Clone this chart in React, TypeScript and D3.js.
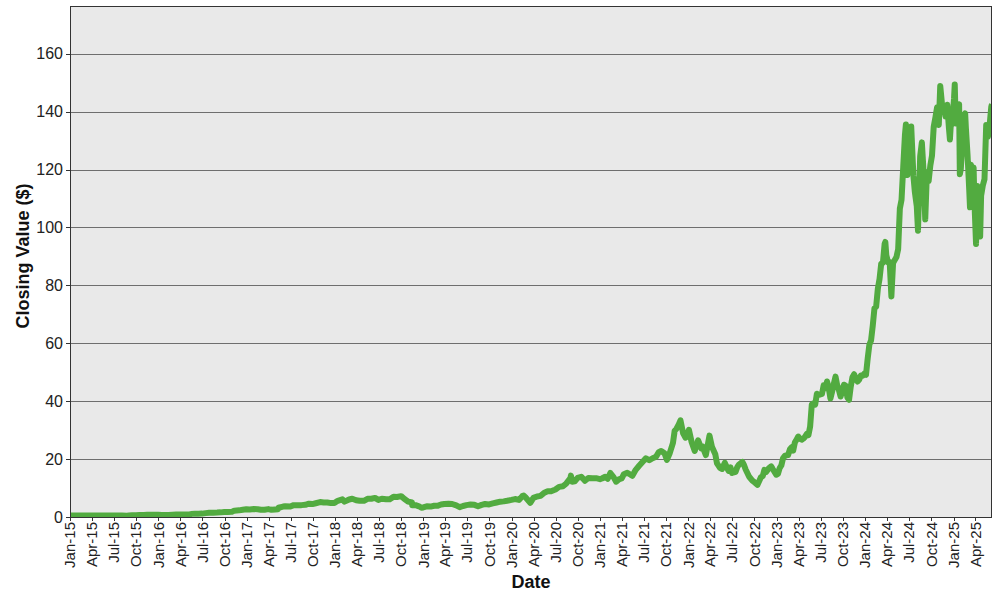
import React from "react";
import * as d3 from "d3";

// Closing values (split-adjusted)
const closeDates: string[] = [
  // 2015
  "2015-01-02","2015-01-15","2015-02-02","2015-02-17","2015-03-02","2015-03-16","2015-04-01","2015-04-15",
  "2015-05-01","2015-05-15","2015-06-01","2015-06-15","2015-07-01","2015-07-15","2015-08-03","2015-08-24",
  "2015-09-01","2015-09-15","2015-10-01","2015-10-15","2015-11-02","2015-11-16","2015-12-01","2015-12-15","2015-12-31",
  // 2016
  "2016-01-15","2016-01-29","2016-02-12","2016-02-29","2016-03-15","2016-03-31","2016-04-15","2016-04-29",
  "2016-05-13","2016-05-16","2016-05-31","2016-06-15","2016-06-30","2016-07-15","2016-07-29","2016-08-15",
  "2016-08-31","2016-09-15","2016-09-30","2016-10-14","2016-10-31","2016-11-10","2016-11-30","2016-12-15","2016-12-30",
  // 2017
  "2017-01-13","2017-01-31","2017-02-15","2017-02-28","2017-03-15","2017-03-31","2017-04-13","2017-04-28",
  "2017-05-10","2017-05-12","2017-05-31","2017-06-09","2017-06-30","2017-07-14","2017-07-31","2017-08-15",
  "2017-08-31","2017-09-15","2017-09-29","2017-10-13","2017-10-31","2017-11-15","2017-11-30","2017-12-15","2017-12-29",
  // 2018
  "2018-01-12","2018-01-31","2018-02-09","2018-02-28","2018-03-13","2018-03-29","2018-04-13","2018-04-30",
  "2018-05-15","2018-05-31","2018-06-15","2018-06-29","2018-07-13","2018-07-31","2018-08-15","2018-08-31",
  "2018-09-14","2018-10-01","2018-10-15","2018-10-31","2018-11-15","2018-11-16","2018-11-30","2018-12-14","2018-12-24","2018-12-31",
  // 2019
  "2019-01-15","2019-01-31","2019-02-15","2019-02-28","2019-03-15","2019-03-29","2019-04-15","2019-04-30",
  "2019-05-17","2019-05-31","2019-06-14","2019-06-28","2019-07-15","2019-07-31","2019-08-15","2019-08-30",
  "2019-09-13","2019-09-30","2019-10-15","2019-10-31","2019-11-15","2019-11-29","2019-12-13","2019-12-31",
  // 2020
  "2020-01-15","2020-01-31","2020-02-14","2020-02-20","2020-02-28","2020-03-09","2020-03-18","2020-03-31",
  "2020-04-15","2020-04-30","2020-05-15","2020-05-29","2020-06-12","2020-06-30","2020-07-15","2020-07-31",
  "2020-08-14","2020-08-31","2020-09-02","2020-09-08","2020-09-18","2020-09-30","2020-10-15","2020-10-30",
  "2020-11-13","2020-11-30","2020-12-15","2020-12-31",
  // 2021
  "2021-01-08","2021-01-22","2021-02-01","2021-02-12","2021-02-26","2021-03-08","2021-03-19","2021-03-31",
  "2021-04-09","2021-04-23","2021-05-07","2021-05-14","2021-05-28","2021-06-11","2021-06-25","2021-07-09",
  "2021-07-23","2021-08-06","2021-08-20","2021-08-31","2021-09-10","2021-09-24","2021-10-04","2021-10-15",
  "2021-10-29","2021-11-05","2021-11-12","2021-11-22","2021-11-29","2021-12-10","2021-12-20","2021-12-31",
  // 2022
  "2022-01-03","2022-01-14","2022-01-27","2022-02-04","2022-02-10","2022-02-23","2022-02-28","2022-03-14",
  "2022-03-29","2022-04-08","2022-04-22","2022-04-29","2022-05-12","2022-05-20","2022-05-31","2022-06-10",
  "2022-06-16","2022-06-24","2022-06-30","2022-07-15","2022-07-22","2022-07-29","2022-08-12","2022-08-19",
  "2022-08-26","2022-09-09","2022-09-23","2022-09-30","2022-10-13","2022-10-21","2022-10-28","2022-11-04",
  "2022-11-11","2022-11-18","2022-11-30","2022-12-09","2022-12-16","2022-12-30",
  // 2023
  "2023-01-06","2023-01-13","2023-01-20","2023-01-27","2023-02-03","2023-02-10","2023-02-17","2023-02-24",
  "2023-03-03","2023-03-10","2023-03-17","2023-03-24","2023-03-31","2023-04-07","2023-04-14","2023-04-21",
  "2023-04-28","2023-05-05","2023-05-12","2023-05-19","2023-05-26","2023-06-02","2023-06-09","2023-06-16",
  "2023-06-23","2023-06-30","2023-07-07","2023-07-14","2023-07-21","2023-07-28","2023-08-04","2023-08-11",
  "2023-08-18","2023-08-25","2023-09-01","2023-09-08","2023-09-15","2023-09-22","2023-09-29","2023-10-06",
  "2023-10-13","2023-10-20","2023-10-27","2023-11-03","2023-11-10","2023-11-17","2023-11-24","2023-12-01",
  "2023-12-08","2023-12-15","2023-12-22","2023-12-29",
  // 2024
  "2024-01-05","2024-01-12","2024-01-19","2024-01-26","2024-02-02","2024-02-09","2024-02-16","2024-02-23",
  "2024-03-01","2024-03-08","2024-03-15","2024-03-22","2024-03-25","2024-03-29","2024-04-05","2024-04-12",
  "2024-04-19","2024-04-26","2024-05-03","2024-05-10","2024-05-17","2024-05-24","2024-05-31","2024-06-07",
  "2024-06-14","2024-06-18","2024-06-24","2024-06-28","2024-07-05","2024-07-10","2024-07-19","2024-07-25",
  "2024-08-02","2024-08-07","2024-08-16","2024-08-23","2024-08-30","2024-09-06","2024-09-13","2024-09-20",
  "2024-09-27","2024-10-04","2024-10-11","2024-10-18","2024-10-25","2024-11-01","2024-11-07","2024-11-15",
  "2024-11-22","2024-11-29","2024-12-06","2024-12-13","2024-12-17","2024-12-20","2024-12-27",
  // 2025
  "2025-01-03","2025-01-06","2025-01-10","2025-01-17","2025-01-24","2025-01-27","2025-01-31","2025-02-07",
  "2025-02-14","2025-02-18","2025-02-21","2025-02-28","2025-03-07","2025-03-10","2025-03-14","2025-03-21",
  "2025-03-25","2025-03-28","2025-04-04","2025-04-09","2025-04-11","2025-04-17","2025-04-21","2025-04-25",
  "2025-05-02","2025-05-09","2025-05-16","2025-05-23","2025-05-30","2025-06-06","2025-06-09",
];

const closeValues: number[] = [
  // 2015
  0.50,0.48,0.51,0.56,0.55,0.54,0.52,0.54,
  0.55,0.55,0.55,0.50,0.50,0.49,0.50,0.45,
  0.50,0.57,0.62,0.66,0.72,0.77,0.82,0.79,0.82,
  // 2016
  0.68,0.73,0.68,0.77,0.84,0.89,0.90,0.89,
  0.93,1.08,1.16,1.15,1.17,1.34,1.43,1.50,
  1.53,1.60,1.71,1.70,1.78,2.20,2.30,2.50,2.67,
  // 2017
  2.58,2.73,2.70,2.53,2.50,2.72,2.48,2.60,
  2.71,3.20,3.60,3.70,3.61,4.10,4.05,4.10,
  4.20,4.60,4.46,4.75,5.15,5.00,5.00,4.80,4.84,
  // 2018
  5.60,6.10,5.30,6.05,6.30,5.80,5.60,5.60,
  6.30,6.30,6.60,5.90,6.30,6.10,6.10,7.00,
  6.90,7.20,6.20,5.30,5.00,4.10,4.10,3.70,3.20,3.30,
  // 2019
  3.70,3.60,3.90,3.85,4.30,4.50,4.60,4.50,
  4.00,3.40,3.80,4.10,4.30,4.20,3.70,4.20,
  4.50,4.35,4.70,5.00,5.30,5.40,5.60,5.90,
  // 2020
  6.20,5.90,7.20,7.40,6.75,5.80,4.90,6.60,
  7.10,7.30,8.40,8.90,8.90,9.50,10.40,10.60,
  11.60,13.40,14.30,12.20,12.30,13.50,13.90,12.50,
  13.50,13.40,13.40,13.05,
  // 2021
  13.30,13.90,13.20,15.20,13.70,12.20,13.00,13.30,
  14.80,15.30,14.60,14.20,16.30,17.70,19.00,20.30,
  19.60,20.30,20.80,22.40,22.80,22.00,19.70,21.90,
  25.60,29.80,30.40,32.00,33.40,28.90,27.40,29.40,
  // 2022
  30.10,25.90,22.80,25.10,26.50,23.70,24.40,21.40,
  28.10,24.30,21.70,18.50,16.90,16.60,18.70,16.90,
  15.90,17.10,15.20,15.60,17.30,18.10,19.00,17.90,
  16.30,13.90,12.50,12.10,11.10,12.50,13.80,14.10,
  16.30,15.50,16.90,17.50,16.50,14.60,
  // 2023
  14.90,16.90,17.80,20.30,21.10,21.30,21.40,23.30,
  24.00,22.90,25.80,26.70,27.80,27.00,26.70,27.10,
  27.70,28.70,28.30,31.20,38.90,39.30,38.80,42.60,
  42.20,42.30,42.50,45.50,44.40,46.80,44.60,40.90,
  43.30,46.00,48.50,45.50,43.90,41.60,43.50,45.70,
  45.40,41.30,40.50,45.00,48.30,49.30,47.80,46.80,
  47.50,48.90,48.80,49.50,
  // 2024
  49.10,54.70,59.50,61.00,66.10,72.10,72.60,78.80,
  82.20,87.50,87.80,94.30,95.00,90.40,88.00,88.10,
  76.20,87.70,88.80,89.80,92.50,106.50,109.60,120.90,
  131.90,135.60,118.10,123.50,125.80,134.90,117.90,112.30,
  107.30,98.90,124.60,129.40,119.40,102.80,119.10,116.00,
  121.40,124.90,134.80,138.00,141.50,135.40,148.90,141.98,
  141.95,138.30,142.40,134.30,130.40,134.70,137.00,
  // 2025
  144.50,149.40,135.90,137.70,142.60,118.40,120.10,129.80,
  138.90,139.40,134.40,124.90,112.70,106.98,121.70,117.70,
  120.70,109.70,94.30,114.30,110.90,101.50,96.90,111.00,
  114.50,116.70,135.40,131.30,135.10,141.70,142.60,
];

const yTickValues: number[] = [0, 20, 40, 60, 80, 100, 120, 140, 160];
const xDomainDates: string[] = ["2015-01-01", "2025-06-09"];
const yDomainMax = 176.5;
const xTitle = "Date";
const yTitle = "Closing Value ($)";

const W = 1000;
const H = 600;
const M = { left: 70, top: 6, right: 8, bottom: 83 };
const FONT = "Arial, 'Liberation Sans', sans-serif";

export default function App() {
  const parse = d3.timeParse("%Y-%m-%d");
  const data = closeDates.map((d, i) => ({ date: parse(d) as Date, value: closeValues[i] }));

  const x = d3
    .scaleTime()
    .domain(xDomainDates.map((d) => parse(d) as Date))
    .range([M.left, W - M.right]);
  const y = d3
    .scaleLinear()
    .domain([0, yDomainMax])
    .range([H - M.bottom, M.top]);

  const line = d3
    .line<{ date: Date; value: number }>()
    .x((d) => x(d.date))
    .y((d) => y(d.value));

  const xTicks = x.ticks(d3.timeMonth.every(3) as d3.TimeInterval);
  const fmt = d3.timeFormat("%b-%y");
  const plotW = W - M.left - M.right;
  const plotH = H - M.top - M.bottom;
  const bottom = H - M.bottom;

  return (
    <svg
      width={W}
      height={H}
      style={{ position: "absolute", left: 0, top: 0, display: "block", background: "#fff" }}
      fontFamily={FONT}
    >
      <defs>
        <clipPath id="plotclip">
          <rect x={M.left} y={M.top} width={plotW} height={plotH} />
        </clipPath>
      </defs>
      <rect x={M.left} y={M.top} width={plotW} height={plotH} fill="#e9e9e9" />
      {yTickValues.map((t) => (
        <g key={`y${t}`}>
          {t > 0 && (
            <line
              x1={M.left}
              x2={W - M.right}
              y1={Math.round(y(t)) + 0.5}
              y2={Math.round(y(t)) + 0.5}
              stroke="#6e6e6e"
              strokeWidth={1}
            />
          )}
          <line
            x1={M.left - 4}
            x2={M.left}
            y1={Math.round(y(t)) + 0.5}
            y2={Math.round(y(t)) + 0.5}
            stroke="#333"
          />
          <text
            x={M.left - 7}
            y={y(t)}
            dy="0.35em"
            textAnchor="end"
            fontSize={16}
            fill="#222"
          >
            {t}
          </text>
        </g>
      ))}
      <path
        d={line(data) || ""}
        fill="none"
        stroke="#52ab40"
        strokeWidth={6}
        strokeLinejoin="round"
        clipPath="url(#plotclip)"
      />
      <rect
        x={M.left + 0.5}
        y={M.top + 0.5}
        width={plotW - 1}
        height={plotH}
        fill="none"
        stroke="#333"
        strokeWidth={1}
      />
      {xTicks.map((t) => (
        <g key={`x${t.getTime()}`}>
          <line
            x1={Math.round(x(t)) + 0.5}
            x2={Math.round(x(t)) + 0.5}
            y1={bottom}
            y2={bottom + 4}
            stroke="#333"
          />
          <text
            transform={`translate(${x(t)},${bottom + 5}) rotate(-90)`}
            dy="0.35em"
            textAnchor="end"
            fontSize={15}
            fill="#222"
          >
            {fmt(t)}
          </text>
        </g>
      ))}
      <text
        x={(M.left + W - M.right) / 2}
        y={588}
        textAnchor="middle"
        fontSize={18}
        fontWeight="bold"
        fill="#111"
      >
        {xTitle}
      </text>
      <text
        transform={`translate(29,${256}) rotate(-90)`}
        textAnchor="middle"
        fontSize={18}
        fontWeight="bold"
        fill="#111"
      >
        {yTitle}
      </text>
    </svg>
  );
}
